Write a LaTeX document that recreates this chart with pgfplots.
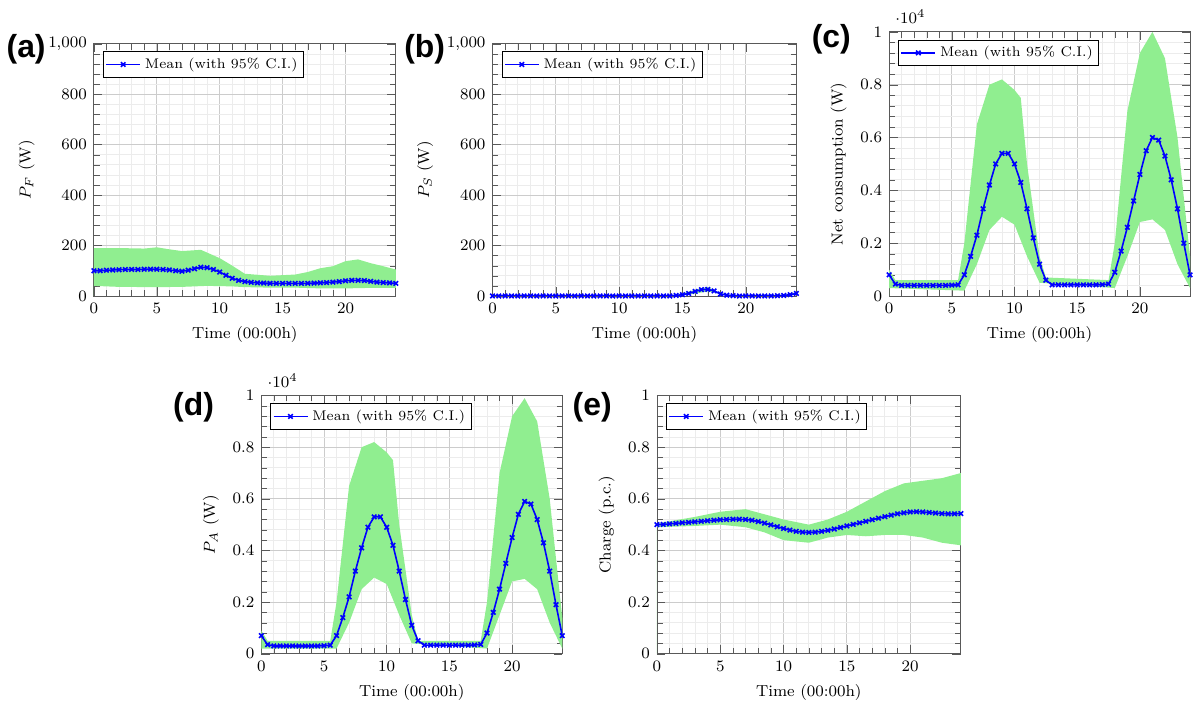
\documentclass[border=0pt]{standalone}
\usepackage{pgfplots}
\pgfplotsset{compat=1.18}
\usepackage{fontspec}
\newfontfamily\lab{Liberation Sans}
\definecolor{band}{RGB}{144,238,144}
\pgfplotsset{myax/.style={scale only axis, anchor=south west, xmin=0,xmax=24, xtick={0,5,...,20},
 minor x tick num=4, minor y tick num=4, grid=both, major grid style={gray!40}, minor grid style={gray!15},
 tick label style={font=\footnotesize}, label style={font=\footnotesize},
 xlabel={Time (00:00h)}, legend pos=north west, legend style={font=\scriptsize, draw=black, inner sep=1pt},
 legend cell align=left, axis line style={gray!70!black}, tick style={gray!70!black}},
 mean/.style={blue, thick, mark=x, mark size=1.6pt, mark options={solid}},
 bnd/.style={fill=band, draw=none, forget plot}}
\begin{document}
\begin{tikzpicture}
\path (0,0) rectangle (600pt,356.5pt);
\node[font=\lab\bfseries\fontsize{16}{16}\selectfont] at (11pt,332pt) {(a)};
\node[font=\lab\bfseries\fontsize{16}{16}\selectfont] at (211pt,332pt) {(b)};
\node[font=\lab\bfseries\fontsize{16}{16}\selectfont] at (415pt,337pt) {(c)};
\node[font=\lab\bfseries\fontsize{16}{16}\selectfont] at (95pt,152pt) {(d)};
\node[font=\lab\bfseries\fontsize{16}{16}\selectfont] at (295pt,152pt) {(e)};
% (a)
\begin{axis}[myax, at={(45pt,208pt)}, width=151.5pt, height=126.5pt, ymin=0, ymax=1000, ylabel={$P_F$ (W)}]
\addplot[bnd] coordinates {(0,190)(2,190)(4,188)(5,193)(6,185)(7,178)(8.5,183)(10,150)(11,120)(12,88)(14,80)(16,85)(17,95)(18,110)(19,118)(20,138)(21,145)(22,130)(23,118)(24,105)
 (24,32)(22,32)(20,30)(18,30)(16,33)(14,33)(12,35)(11,38)(9,40)(7,36)(5,35)(2,36)(0,40)} \closedcycle;
\addplot[mean] coordinates {(0,100)(0.5,100)(1,102)(1.5,103)(2,104)(2.5,105)(3,105)(3.5,105)(4,106)(4.5,106)(5,106)(5.5,105)(6,103)(6.5,100)(7,98)(7.5,102)(8,108)(8.5,114)(9,112)(9.5,105)(10,95)(10.5,82)(11,70)(11.5,62)(12,57)(12.5,54)(13,52)(13.5,51)(14,50)(14.5,50)(15,50)(15.5,50)(16,50)(16.5,50)(17,50)(17.5,51)(18,52)(18.5,53)(19,55)(19.5,57)(20,60)(20.5,62)(21,62)(21.5,61)(22,58)(22.5,55)(23,53)(23.5,52)(24,50)};
\addlegendentry{Mean (with 95\% C.I.)}
\end{axis}
% (b)
\begin{axis}[myax, at={(245pt,208pt)}, width=152.5pt, height=126.5pt, ymin=0, ymax=1000, ylabel={$P_S$ (W)}]
\addplot[bnd] coordinates {(0,2)(14,3)(15,10)(16,25)(17,35)(18,12)(19,3)(23,5)(24,15)(24,5)(19,0)(17,18)(15,1)(0,0)} \closedcycle;
\addplot[mean] coordinates {(0,0)(0.5,0)(1,0)(1.5,0)(2,0)(2.5,0)(3,0)(3.5,0)(4,0)(4.5,0)(5,0)(5.5,0)(6,0)(6.5,0)(7,0)(7.5,0)(8,0)(8.5,0)(9,0)(9.5,0)(10,0)(10.5,0)(11,0)(11.5,0)(12,0)(12.5,0)(13,0)(13.5,0)(14,0)(14.5,2)(15,5)(15.5,10)(16,18)(16.5,25)(17,26)(17.5,20)(18,8)(18.5,3)(19,1)(19.5,0)(20,0)(20.5,0)(21,0)(21.5,0)(22,0)(22.5,1)(23,2)(23.5,5)(24,10)};
\addlegendentry{Mean (with 95\% C.I.)}
\end{axis}
% (c)
\begin{axis}[myax, at={(444pt,208pt)}, width=151pt, height=132.5pt, ymin=0, ymax=10000, ytick={0,2000,...,10000}, scaled y ticks=base 10:-4, ylabel={Net consumption (W)}]
\addplot[bnd] coordinates {(0,1000)(0.5,600)(5.5,600)(6,2000)(7,6500)(8,8000)(9,8200)(10,7800)(10.5,7500)(11,5000)(12,1500)(12.5,700)(17.5,600)(18,2000)(19,7000)(20,9200)(21,10000)(22,9000)(23,6000)(24,1500)
 (24,300)(23,1200)(22,2500)(21,2900)(20,2800)(19,1500)(18,300)(12,500)(11,1500)(10,2700)(9,3000)(8,2500)(7,1200)(6,200)(0,300)} \closedcycle;
\addplot[mean] coordinates {(0,800)(0.5,450)(1,400)(1.5,400)(2,400)(2.5,400)(3,400)(3.5,400)(4,400)(4.5,400)(5,410)(5.5,420)(6,800)(6.5,1500)(7,2300)(7.5,3300)(8,4200)(8.5,5000)(9,5400)(9.5,5400)(10,5000)(10.5,4300)(11,3300)(11.5,2200)(12,1200)(12.5,600)(13,420)(13.5,420)(14,420)(14.5,420)(15,420)(15.5,420)(16,420)(16.5,420)(17,430)(17.5,450)(18,900)(18.5,1700)(19,2600)(19.5,3600)(20,4600)(20.5,5500)(21,6000)(21.5,5900)(22,5300)(22.5,4400)(23,3300)(23.5,2000)(24,800)};
\addlegendentry{Mean (with 95\% C.I.)}
\end{axis}
% (d)
\begin{axis}[myax, at={(129pt,28.5pt)}, width=151pt, height=129.5pt, ymin=0, ymax=10000, ytick={0,2000,...,10000}, scaled y ticks=base 10:-4, ylabel={$P_A$ (W)}]
\addplot[bnd] coordinates {(0,900)(0.5,500)(5.5,500)(6,2000)(7,6500)(8,8000)(9,8200)(10,7800)(10.5,7500)(11,5000)(12,1500)(12.5,500)(17.5,500)(18,2000)(19,7000)(20,9200)(21,9900)(22,9000)(23,6000)(24,1400)
 (24,200)(23,1200)(22,2500)(21,2900)(20,2800)(19,1500)(18,200)(12,400)(11,1500)(10,2700)(9,2950)(8,2500)(7,1200)(6,200)(0,200)} \closedcycle;
\addplot[mean] coordinates {(0,700)(0.5,350)(1,300)(1.5,300)(2,300)(2.5,300)(3,300)(3.5,300)(4,300)(4.5,300)(5,310)(5.5,330)(6,700)(6.5,1400)(7,2200)(7.5,3200)(8,4100)(8.5,4900)(9,5300)(9.5,5300)(10,4900)(10.5,4200)(11,3200)(11.5,2100)(12,1100)(12.5,500)(13,330)(13.5,330)(14,330)(14.5,330)(15,330)(15.5,330)(16,330)(16.5,330)(17,340)(17.5,360)(18,800)(18.5,1600)(19,2500)(19.5,3500)(20,4500)(20.5,5400)(21,5900)(21.5,5800)(22,5200)(22.5,4300)(23,3200)(23.5,1900)(24,700)};
\addlegendentry{Mean (with 95\% C.I.)}
\end{axis}
% (e)
\begin{axis}[myax, at={(327.5pt,28.5pt)}, width=152.5pt, height=129.5pt, ymin=0, ymax=1, ytick={0,0.2,...,1}, ylabel={Charge (p.c.)}]
\addplot[bnd] coordinates {(0,0.505)(3,0.53)(5,0.55)(7,0.56)(8.5,0.54)(10,0.52)(12,0.50)(13.5,0.52)(15,0.55)(16.5,0.59)(18,0.63)(19.5,0.66)(21,0.67)(22.5,0.68)(24,0.70)
 (24,0.42)(22.5,0.43)(21,0.45)(19.5,0.46)(18,0.46)(16.5,0.455)(15,0.46)(13.5,0.45)(12,0.43)(10,0.44)(8.5,0.47)(7,0.49)(5,0.50)(3,0.495)(0,0.49)} \closedcycle;
\addplot[mean] coordinates {(0,0.50)(0.5,0.501)(1,0.503)(1.5,0.505)(2,0.507)(2.5,0.509)(3,0.511)(3.5,0.513)(4,0.515)(4.5,0.517)(5,0.519)(5.5,0.52)(6,0.521)(6.5,0.521)(7,0.52)(7.5,0.517)(8,0.512)(8.5,0.506)(9,0.499)(9.5,0.492)(10,0.485)(10.5,0.479)(11,0.474)(11.5,0.471)(12,0.47)(12.5,0.471)(13,0.474)(13.5,0.478)(14,0.483)(14.5,0.489)(15,0.495)(15.5,0.501)(16,0.507)(16.5,0.513)(17,0.519)(17.5,0.525)(18,0.531)(18.5,0.537)(19,0.542)(19.5,0.546)(20,0.549)(20.5,0.55)(21,0.549)(21.5,0.547)(22,0.545)(22.5,0.543)(23,0.542)(23.5,0.542)(24,0.543)};
\addlegendentry{Mean (with 95\% C.I.)}
\end{axis}
\end{tikzpicture}
\end{document}
